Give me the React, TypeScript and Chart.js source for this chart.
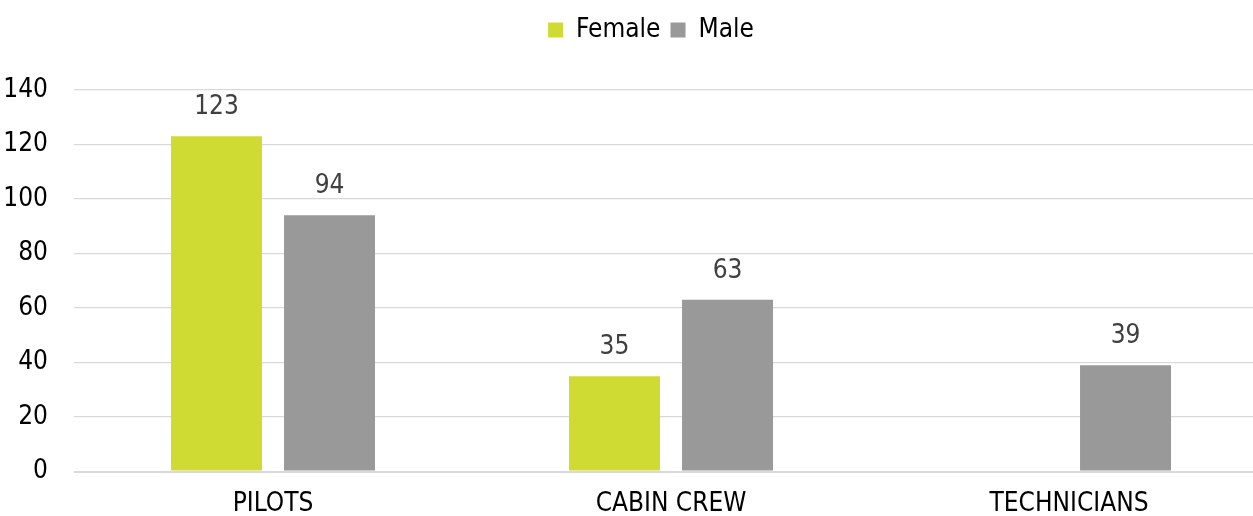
import React, { useEffect, useRef } from "react";
import { Chart, registerables, Plugin } from "chart.js";

Chart.register(...registerables);

// Staff headcount by job family and gender
const categories = ["PILOTS", "CABIN CREW", "TECHNICIANS"];
const femaleValues: (number | null)[] = [123, 35, null];
const maleValues: (number | null)[] = [94, 63, 39];
const seriesNames = ["Female", "Male"];
const yTicks = [0, 20, 40, 60, 80, 100, 120, 140];

const FONT = '"Liberation Sans Narrow", "Arial Narrow", "DejaVu Sans Condensed", sans-serif';
const FEMALE_COLOR = "#cfdb32";
const MALE_COLOR = "#999999";

// Writes each bar's value just above it
const valueLabels: Plugin<"bar"> = {
  id: "valueLabels",
  afterDatasetsDraw(chart) {
    const ctx = chart.ctx;
    ctx.save();
    ctx.font = `26px ${FONT}`;
    ctx.fillStyle = "#404040";
    ctx.textAlign = "center";
    ctx.textBaseline = "alphabetic";
    chart.data.datasets.forEach((ds, di) => {
      const meta = chart.getDatasetMeta(di);
      meta.data.forEach((el: any, i) => {
        const v = ds.data[i] as number | null;
        if (v === null || v === undefined) return;
        ctx.fillText(String(v), el.x, el.y - 22);
      });
    });
    ctx.restore();
  },
};

export default function App() {
  const canvasRef = useRef<HTMLCanvasElement | null>(null);

  useEffect(() => {
    if (!canvasRef.current) return;
    const chart = new Chart(canvasRef.current, {
      type: "bar",
      data: {
        labels: categories,
        datasets: [
          {
            label: seriesNames[0],
            data: femaleValues,
            backgroundColor: FEMALE_COLOR,
            categoryPercentage: 0.568,
            barPercentage: 0.805,
            yAxisID: "y",
          },
          {
            label: seriesNames[1],
            data: maleValues,
            backgroundColor: MALE_COLOR,
            categoryPercentage: 0.568,
            barPercentage: 0.805,
            yAxisID: "y",
          },
        ],
      },
      options: {
        animation: false,
        responsive: true,
        maintainAspectRatio: false,
        layout: { padding: { left: 0, right: 0, top: 7, bottom: 0 } },
        plugins: {
          tooltip: { enabled: false },
          legend: {
            position: "top",
            align: "center",
            labels: {
              boxWidth: 15,
              boxHeight: 15,
              padding: 10,
              color: "#000000",
              font: { family: FONT, size: 26 },
            },
          },
          // empty title used as a gap between the legend and the plot
          title: {
            display: true,
            text: "",
            position: "top",
            weight: 500,
            font: { size: 10 },
            padding: { top: 0, bottom: 25 },
          },
        },
        scales: {
          x: {
            afterFit(scale) {
              scale.height = 44.5;
            },
            grid: { display: false, drawTicks: false },
            border: { display: false },
            ticks: {
              color: "#000000",
              padding: 17,
              font: { family: FONT, size: 26 },
            },
          },
          y: {
            min: 0,
            max: 140,
            afterBuildTicks(scale) {
              scale.ticks = yTicks.map((v) => ({ value: v }));
            },
            afterFit(scale) {
              scale.width = 74;
            },
            grid: {
              color: "#d9d9d9",
              lineWidth: (c: any) => (c.tick && c.tick.value === 0 ? 2 : 1.2),
              drawTicks: false,
            },
            border: { display: false },
            ticks: {
              color: "#000000",
              padding: 26,
              font: { family: FONT, size: 26 },
            },
          },
          yRight: {
            position: "right",
            display: true,
            min: 0,
            max: 140,
            afterFit(scale) {
              scale.width = 34;
            },
            grid: { display: false },
            border: { display: false },
            ticks: { display: false },
          },
        },
      },
      plugins: [valueLabels],
    });
    return () => chart.destroy();
  }, []);

  return (
    <div
      style={{
        position: "fixed",
        left: 0,
        top: 0,
        width: 1253,
        height: 516,
        overflow: "hidden",
        background: "#ffffff",
      }}
    >
      <div style={{ position: "relative", width: 1302, height: 516 }}>
        <canvas ref={canvasRef} />
      </div>
    </div>
  );
}
